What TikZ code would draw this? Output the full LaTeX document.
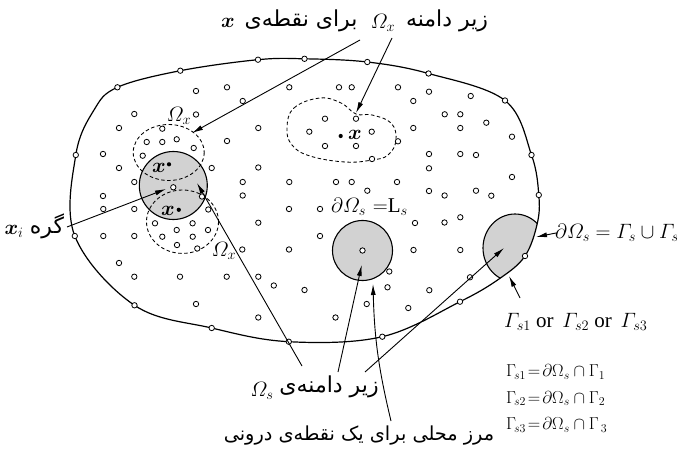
\documentclass[tikz,border=0pt]{standalone}
\usepackage{amsmath}
\usepackage{bm}
\usepackage[no-math]{fontspec}
\setmainfont{Liberation Serif}
\newfontfamily\fa[Script=Arabic]{DejaVu Sans}
\TeXXeTstate=1
\usetikzlibrary{arrows.meta}
\def\bnd{plot[smooth cycle, tension=0.6] coordinates {(117.4,87.3) (180.3,70.7) (258,59.7) (304.5,58.8) (367.3,62) (428.5,73.5) (505,100.5) (531.5,155) (538.8,195) (537.3,223.3) (525,256) (500,278.3) (460,301.7) (382.3,336.7) (288.8,341.7) (211.7,328) (134.5,305.3) (74.8,236) (75.8,155) (94,110)}}
\begin{document}
\begin{tikzpicture}[x=1pt,y=-1pt,
  dotn/.style={circle,draw,fill=white,inner sep=0pt,minimum size=5.4pt,line width=0.8pt},
  arr/.style={-{Latex[length=11pt,width=5pt]}, line width=0.9pt},
  dsh/.style={dash pattern=on 3.5pt off 2.5pt, line width=0.85pt},
  gry/.style={draw, fill=gray!35, line width=1.1pt},
  lbl/.style={inner sep=0pt, font=\fontsize{21}{24}\selectfont},
  flbl/.style={inner sep=0pt, font=\fa\fontsize{22}{26}\selectfont},
  eq/.style={inner sep=0pt, anchor=west, font=\fontsize{17}{19}\selectfont}]
\useasboundingbox (0,0) rectangle (677,454);
% shaded regions
\node[gry, circle, minimum size=68pt, inner sep=0pt] (g1) at (173.3,185.5) {};
\node[gry, circle, minimum size=60pt, inner sep=0pt] (g2) at (362.5,250.5) {};
\begin{scope}
  \clip \bnd;
  \filldraw[gry] (515,248) ellipse [x radius=32, y radius=34];
\end{scope}
% dashed subdomains
\draw[dsh] (168.7,152.5) ellipse [x radius=35.5, y radius=28];
\draw[dsh] (182.5,221.7) ellipse [x radius=36, y radius=31.7];
\draw[dsh] plot[smooth cycle, tension=0.7] coordinates {(287,128) (294,108) (320,98) (341,103) (356,114) (372,115) (391,123) (396,140) (388,155) (372,160) (345,162) (310,156) (292,145)};
% outer boundary
\draw[line width=1.2pt] \bnd;
% boundary nodes
\foreach \x/\y [count=\i] in {117.4/87.3, 180.3/70.7, 258/59.7, 304.5/58.8, 367.3/62, 428.5/73.5, 505/100.5, 531.5/155, 538.8/195, 525/256, 460/301.7, 382.3/336.7, 288.8/341.7, 211.7/328, 134.5/305.3, 74.8/236, 75.8/155}
  \node[dotn] (b\i) at (\x,\y) {};
% interior nodes
\foreach \x/\y [count=\i] in {196/91, 227/87.3, 289.3/87.3, 339/87.3, 351.7/87.3, 242.7/101, 134.3/114, 196/114.5, 119/128, 258.3/128,
  325/118.7, 356/118.7, 309.3/131.7, 371.7/131.7, 325/146, 356/146, 372/159, 227/141, 103/154, 119/168,
  211.7/168, 258.3/167.5, 134.3/182, 242.7/182, 289.3/182, 336/182, 351.7/182, 367.3/190.7, 103/196, 242.7/195.5,
  162.3/128.7, 146.7/142, 162.3/142, 176.7/139.3, 193.7/148, 142.7/155.7,
  173.3/187.3, 202/196.5, 208.3/209.5, 103.3/209, 134.3/209, 103.3/236, 134.3/236,
  155/223.3, 176.7/230, 192.6/223.3, 208/230, 162.3/236.7, 192.7/236.7, 177/245, 197.3/248.5,
  258.3/222.7, 289/209, 320/209, 320/236, 242.3/249.5, 289/249.5, 304.5/290, 273.8/285.5, 258.3/276.7,
  226.7/276.7, 180/276.7, 134.3/276.7, 119/263, 196/304, 258.3/317.5, 335.5/317.5, 366.7/304,
  389.3/271.5, 387.5/287.3, 408.3/308, 429.3/290.2, 413.5/250, 415/223, 444.5/222.5, 460.3/217.3, 460.3/250, 470/277.3,
  362.5/250.5,
  398/87.3, 429/91.7, 413.3/101, 470.7/96, 444.7/114.3, 460.3/114.3, 486.3/122.7, 413.3/128, 460.3/128, 512/136.7,
  398/141.3, 429/154, 460.3/154, 476/155, 429/168.3, 512/177, 397/182, 429/191, 444.6/195.5, 476/190.7, 491.3/195.7}
  \node[dotn] (d\i) at (\x,\y) {};
% filled points x
\fill (169,164.3) circle (2.1pt);
\fill (178.8,209.8) circle (2.1pt);
\fill (340.7,136) circle (2.1pt);
\node[lbl] (xa) at (159,168) {$\bm{x}$};
\node[lbl] (xb) at (168,210.5) {$\bm{x}$};
\node[lbl] (xc) at (355,134.5) {$\bm{x}$};
\node[lbl] (ox1) at (179,115.5) {$\varOmega_x$};
\node[lbl] (ox2) at (224,251) {$\varOmega_x$};
% top label
\node[lbl] (tx) at (228,23) {$\bm{x}$};
\node[flbl] (t1) at (301,21) {\beginR برای نقطه‌ی\endR};
\node[lbl] (t2) at (383,23) {$\varOmega_x$};
\node[flbl] (t3) at (447,21) {\beginR زیر دامنه\endR};
% left label
\node[lbl] (xi) at (14,231) {$\bm{x}_i$};
\node[flbl] (gi) at (47,226) {\beginR گره\endR};
% bottom labels
\node[lbl] (os) at (262,391) {$\varOmega_s$};
\node[flbl] (zs) at (329,387) {\beginR زیر دامنه‌ی\endR};
\node[flbl, font=\fa\fontsize{19.3}{23}\selectfont] (mz) at (359,436) {\beginR مرز محلی برای یک نقطه‌ی درونی\endR};
% circle 2 label
\node[lbl, anchor=west] (ls) at (331,207) {$\partial\varOmega_{s}$\,\,$=$L$_s$};
% right labels
\node[lbl, anchor=west] (gs) at (555,233) {$\partial\varOmega_s=\varGamma_s\cup\varGamma_{s1}$};
\node[lbl, anchor=west] (gor) at (504,322) {$\varGamma_{s1}$ or\, $\varGamma_{s2}$ or\, $\varGamma_{s3}$};
\node[eq] (e1) at (506,372) {$\Gamma_{\!s1}\!=\!\partial\Omega_s\cap\Gamma_1$};
\node[eq] (e2) at (506,398.5) {$\Gamma_{\!s2}\!=\!\partial\Omega_s\cap\Gamma_2$};
\node[eq] (e3) at (506,425) {$\Gamma_{\!s3}\!=\!\partial\Omega_s\cap\Gamma_{\,3}$};
% connector coordinates
\coordinate (a1s) at (360,40);  \coordinate (a1e) at (192,133);
\coordinate (a2s) at (392,38);  \coordinate (a2e) at (356,113);
\coordinate (a3s) at (67,227);  \coordinate (a3e) at (166,189);
\coordinate (a4s) at (302,366); \coordinate (a4e) at (197,183);
\coordinate (a5s) at (338,372); \coordinate (a5e) at (361.7,265);
\coordinate (a6s) at (365,372); \coordinate (a6e) at (504,248);
\coordinate (a7s) at (391,421); \coordinate (a7e) at (373,284);
\coordinate (a8s) at (520,298); \coordinate (a8e) at (509,276);
\coordinate (a9s) at (556,233); \coordinate (a9e) at (536,237);
\draw[arr] (a1s) -- (a1e);
\draw[arr] (a2s) -- (a2e);
\draw[arr] (a3s) -- (a3e);
\draw[arr] (a4s) -- (a4e);
\draw[arr] (a5s) -- (a5e);
\draw[arr] (a6s) -- (a6e);
\draw[arr] (a7s) to[bend left=6] (a7e);
\draw[arr] (a8s) -- (a8e);
\draw[arr] (a9s) -- (a9e);
\end{tikzpicture}
\end{document}
